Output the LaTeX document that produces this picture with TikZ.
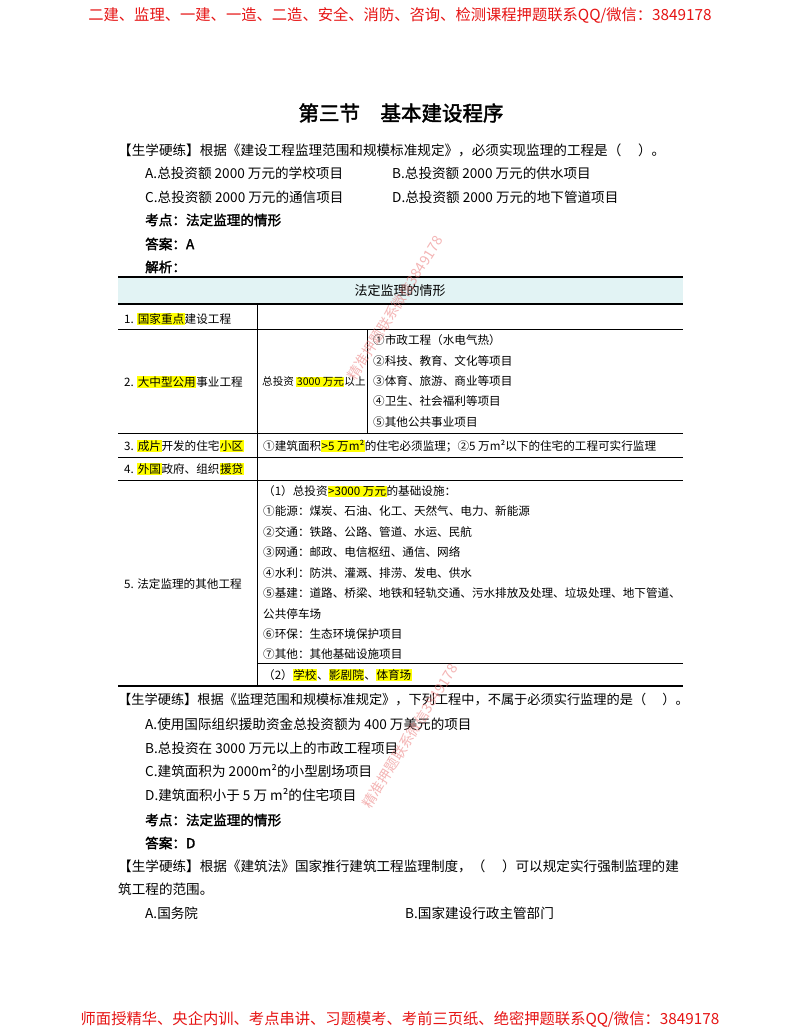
\documentclass[tikz,border=0pt]{standalone}
\usepackage{fontspec}
\setmainfont{Noto Sans CJK SC}
\newfontfamily\cjkbold[FakeBold=2]{Noto Sans CJK SC}
\definecolor{hly}{RGB}{255,255,0}
\definecolor{hdr}{RGB}{226,243,244}
\definecolor{redtxt}{RGB}{230,20,20}
\definecolor{wm}{RGB}{235,120,120}
\newcommand{\hlt}[1]{{\setlength{\fboxsep}{0.5pt}\colorbox{hly}{#1}}}
\begin{document}
\begin{tikzpicture}[x=1pt,y=-1pt,
  txt/.style={anchor=west,inner sep=0pt,font=\fontsize{13.6}{15}\selectfont},
  btxt/.style={anchor=west,inner sep=0pt,font=\cjkbold\fontsize{13.6}{15}\selectfont},
  ttxt/.style={anchor=west,inner sep=0pt,font=\fontsize{11.6}{13}\selectfont},
  thin/.style={line width=0.6pt},
  thick/.style={line width=1.8pt}]
\useasboundingbox (0,0) rectangle (800,1035);
\fill[white] (0,0) rectangle (800,1035);
% header / footer
\node[inner sep=0pt,text=redtxt,font=\fontsize{15.3}{17}\selectfont] (hd) at (400,15) {二建、监理、一建、一造、二造、安全、消防、咨询、检测课程押题联系QQ/微信：3849178};
\node[inner sep=0pt,text=redtxt,font=\fontsize{15.3}{17}\selectfont] (ft) at (400,1019) {师面授精华、央企内训、考点串讲、习题模考、考前三页纸、绝密押题联系QQ/微信：3849178};
% title
\node[inner sep=0pt,font=\cjkbold\fontsize{20.5}{23}\selectfont] (title) at (401,113) {第三节\quad 基本建设程序};
% Q1
\node[txt] (q1) at (118,150) {【生学硬练】根据《建设工程监理范围和规模标准规定》，必须实现监理的工程是（\quad\ ）。};
\node[txt] (q1a) at (145,173) {A.总投资额 2000 万元的学校项目};
\node[txt] (q1b) at (392,173) {B.总投资额 2000 万元的供水项目};
\node[txt] (q1c) at (145,197) {C.总投资额 2000 万元的通信项目};
\node[txt] (q1d) at (392,197) {D.总投资额 2000 万元的地下管道项目};
\node[btxt] (k1) at (145,220) {考点：法定监理的情形};
\node[btxt] (a1) at (145,244) {答案：A};
\node[btxt] (j1) at (145,267) {解析：};
% table
\fill[hdr] (118,277) rectangle (683,304);
\draw[thick] (118,277) -- (683,277);
\draw[thick] (118,304) -- (683,304);
\node[inner sep=0pt,font=\fontsize{13}{15}\selectfont] (th) at (400,291) {法定监理的情形};
\draw[thin] (118,329) -- (683,329);
\draw[thin] (118,433) -- (683,433);
\draw[thin] (118,457) -- (683,457);
\draw[thin] (118,480) -- (683,480);
\draw[thin] (257,663) -- (683,663);
\draw[thick] (118,686) -- (683,686);
\draw[thin] (257,304) -- (257,686);
\draw[thin] (367,329) -- (367,433);
\node[ttxt] (r1) at (124,319) {1. \hlt{国家重点}建设工程};
\node[ttxt] (r2) at (124,382) {2. \hlt{大中型公用}事业工程};
\node[ttxt,font=\fontsize{10.6}{12}\selectfont] (r2b) at (262,382) {总投资 \hlt{3000 万元}以上};
\node[ttxt] (r2c1) at (373,340) {①市政工程（水电气热）};
\node[ttxt] (r2c2) at (373,361) {②科技、教育、文化等项目};
\node[ttxt] (r2c3) at (373,381) {③体育、旅游、商业等项目};
\node[ttxt] (r2c4) at (373,401) {④卫生、社会福利等项目};
\node[ttxt] (r2c5) at (373,422) {⑤其他公共事业项目};
\node[ttxt] (r3) at (124,446) {3. \hlt{成片}开发的住宅\hlt{小区}};
\node[ttxt] (r3b) at (263,446) {①建筑面积\hlt{>5 万m²}的住宅必须监理；②5 万m²以下的住宅的工程可实行监理};
\node[ttxt] (r4) at (124,469) {4. \hlt{外国}政府、组织\hlt{援贷}};
\node[ttxt] (r5) at (124,584) {5. 法定监理的其他工程};
\node[ttxt] (r5a) at (263,491) {（1）总投资\hlt{>3000 万元}的基础设施：};
\node[ttxt] (r5b) at (263,511) {①能源：煤炭、石油、化工、天然气、电力、新能源};
\node[ttxt] (r5c) at (263,532) {②交通：铁路、公路、管道、水运、民航};
\node[ttxt] (r5d) at (263,552) {③网通：邮政、电信枢纽、通信、网络};
\node[ttxt] (r5e) at (263,573) {④水利：防洪、灌溉、排涝、发电、供水};
\node[ttxt] (r5f) at (263,593) {⑤基建：道路、桥梁、地铁和轻轨交通、污水排放及处理、垃圾处理、地下管道、};
\node[ttxt] (r5g) at (263,614) {公共停车场};
\node[ttxt] (r5h) at (263,634) {⑥环保：生态环境保护项目};
\node[ttxt] (r5i) at (263,654) {⑦其他：其他基础设施项目};
\node[ttxt] (r5j) at (263,675) {（2）\hlt{学校}、\hlt{影剧院}、\hlt{体育场}};
% Q2
\node[txt,font=\fontsize{13.2}{15}\selectfont] (q2) at (118,700) {【生学硬练】根据《监理范围和规模标准规定》，下列工程中，不属于必须实行监理的是（\quad\ ）。};
\node[txt] (q2a) at (145,724) {A.使用国际组织援助资金总投资额为 400 万美元的项目};
\node[txt] (q2b) at (145,748) {B.总投资在 3000 万元以上的市政工程项目};
\node[txt] (q2c) at (145,771) {C.建筑面积为 2000m²的小型剧场项目};
\node[txt] (q2d) at (145,795) {D.建筑面积小于 5 万 m²的住宅项目};
\node[btxt] (k2) at (145,820) {考点：法定监理的情形};
\node[btxt] (a2) at (145,843) {答案：D};
% Q3
\node[txt] (q3) at (118,866) {【生学硬练】根据《建筑法》国家推行建筑工程监理制度，（\quad\ ）可以规定实行强制监理的建};
\node[txt] (q3l2) at (118,889) {筑工程的范围。};
\node[txt] (q3a) at (145,913) {A.国务院};
\node[txt] (q3b) at (405,913) {B.国家建设行政主管部门};
% watermarks
\node[rotate=58,text=wm,opacity=0.55,font=\fontsize{14}{16}\selectfont] (wm1) at (395,308) {精准押题联系微信3849178};
\node[rotate=58,text=wm,opacity=0.55,font=\fontsize{14}{16}\selectfont] (wm2) at (410,736) {精准押题联系微信3849178};
\end{tikzpicture}
\end{document}
